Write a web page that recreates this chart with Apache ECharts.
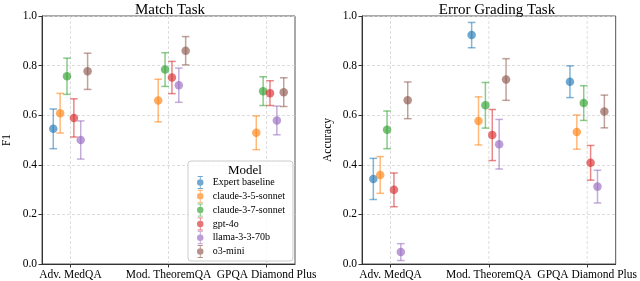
<!DOCTYPE html>
<html>
<head>
<meta charset="utf-8">
<script src="https://cdn.jsdelivr.net/npm/echarts@6/dist/echarts.min.js"></script>
<style>html,body{margin:0;padding:0;background:#fff}#c{width:640px;height:281px}</style>
</head>
<body>
<div id="c"></div>
<script>
const categories = ['Adv. MedQA', 'Mod. TheoremQA', 'GPQA Diamond Plus'];
const models = ['Expert baseline', 'claude-3-5-sonnet', 'claude-3-7-sonnet', 'gpt-4o', 'llama-3-3-70b', 'o3-mini'];
const colors = ['#1f77b4', '#ff7f0e', '#2ca02c', '#d62728', '#9467bd', '#8c564b'];

// Match Task (F1): rows = models, cols = categories
const matchMeans = [
  [0.545, null, null],
  [0.608, 0.659, 0.529],
  [0.757, 0.784, 0.697],
  [0.589, 0.752, 0.689],
  [0.500, 0.721, 0.579],
  [0.777, 0.860, 0.693]
];
const matchErrs = [
  [0.080, null, null],
  [0.080, 0.086, 0.068],
  [0.073, 0.068, 0.058],
  [0.077, 0.065, 0.050],
  [0.077, 0.069, 0.058],
  [0.073, 0.057, 0.058]
];
// Error Grading Task (Accuracy)
const gradeMeans = [
  [0.343, 0.923, 0.735],
  [0.359, 0.577, 0.532],
  [0.541, 0.640, 0.649],
  [0.299, 0.520, 0.408],
  [0.048, 0.483, 0.312],
  [0.660, 0.744, 0.615]
];
const gradeErrs = [
  [0.083, 0.051, 0.064],
  [0.074, 0.097, 0.069],
  [0.076, 0.092, 0.070],
  [0.068, 0.103, 0.070],
  [0.034, 0.100, 0.066],
  [0.074, 0.084, 0.066]
];

const FONT = 'Liberation Serif';
const dodge = i => (i - 2.5) * 0.07;
const GRID_LINE = {color: '#d4d4d4', type: [3, 2], width: 0.8};

function hexA(hex, a) {
  const n = parseInt(hex.slice(1), 16);
  return 'rgba(' + ((n >> 16) & 255) + ',' + ((n >> 8) & 255) + ',' + (n & 255) + ',' + a + ')';
}

const grids = [
  {left: 35, right: 345, top: 16, bottom: 16},
  {left: 362, right: 17, top: 16, bottom: 16}
];

function xAxisFor(gi) {
  return {
    type: 'value', gridIndex: gi, min: -0.29, max: 2.29,
    axisLine: {show: true, onZero: false, lineStyle: {color: '#333'}},
    axisTick: {show: true, customValues: [0, 1, 2], length: 3.5, lineStyle: {color: '#333'}},
    axisLabel: {customValues: [0, 1, 2], formatter: v => categories[Math.round(v)], color: '#000',
      fontFamily: FONT, fontSize: 11.5, margin: 5},
    splitLine: {show: false}
  };
}
function yAxisFor(gi, name) {
  return {
    type: 'value', gridIndex: gi, min: 0, max: 1, interval: 0.2,
    name: name, nameLocation: 'middle', nameGap: gi === 0 ? 29 : 28,
    nameTextStyle: {fontFamily: FONT, fontSize: 11.5, color: '#000'},
    axisLine: {show: true, onZero: false, lineStyle: {color: '#333'}},
    axisTick: {show: true, length: 3.5, lineStyle: {color: '#333'}},
    axisLabel: {formatter: v => v.toFixed(1), color: '#000', fontFamily: FONT, fontSize: 11.5, margin: 5},
    splitLine: {show: true, lineStyle: GRID_LINE}
  };
}

const series = [];
[[matchMeans, matchErrs, 0], [gradeMeans, gradeErrs, 1]].forEach(([means, errs, gi]) => {
  // vertical category gridlines
  series.push({
    type: 'custom', xAxisIndex: gi, yAxisIndex: gi, silent: true, z: 1,
    data: categories.map((c, k) => [k, 0, 1]),
    renderItem: (params, api) => {
      const a = api.coord([api.value(0), api.value(1)]);
      const b = api.coord([api.value(0), api.value(2)]);
      return {type: 'line', shape: {x1: a[0], y1: a[1], x2: b[0], y2: b[1]},
        style: {stroke: GRID_LINE.color, lineWidth: GRID_LINE.width, lineDash: GRID_LINE.type}};
    }
  });
  models.forEach((m, i) => {
    const ebData = [];
    const ptData = [];
    categories.forEach((c, k) => {
      const v = means[i][k];
      if (v === null) return;
      const e = errs[i][k];
      ebData.push([k + dodge(i), v - e, v + e]);
      ptData.push([k + dodge(i), v]);
    });
    series.push({
      type: 'custom', name: m + ' err', xAxisIndex: gi, yAxisIndex: gi, data: ebData, z: 2, silent: true,
      renderItem: (params, api) => {
        const x = api.value(0);
        const lo = api.coord([x, api.value(1)]);
        const hi = api.coord([x, api.value(2)]);
        const cw = 3.8;
        const style = {stroke: hexA(colors[i], 0.55), lineWidth: 1.5, fill: null};
        return {type: 'group', children: [
          {type: 'line', shape: {x1: lo[0], y1: lo[1], x2: hi[0], y2: hi[1]}, style: style},
          {type: 'line', shape: {x1: lo[0] - cw, y1: lo[1], x2: lo[0] + cw, y2: lo[1]}, style: style},
          {type: 'line', shape: {x1: hi[0] - cw, y1: hi[1], x2: hi[0] + cw, y2: hi[1]}, style: style}
        ]};
      }
    });
    series.push({
      type: 'scatter', name: m, xAxisIndex: gi, yAxisIndex: gi, data: ptData, z: 3,
      symbolSize: 8.5, itemStyle: {color: hexA(colors[i], 0.8)}
    });
  });
});

const legendIcon = 'path://M9.3,0H10.7V20H9.3Z M6,0H14V1.4H6Z M6,18.6H14V20H6Z M10,5A5,5 0 1 1 9.99,5Z';

const option = {
  animation: false,
  backgroundColor: '#fff',
  grid: grids.map(g => Object.assign({show: true, borderColor: '#555', borderWidth: 1, containLabel: false}, g)),
  xAxis: [xAxisFor(0), xAxisFor(1)],
  yAxis: [yAxisFor(0, 'F1'), yAxisFor(1, 'Accuracy')],
  title: [
    {text: 'Match Task', left: 165, top: -2, textAlign: 'center',
      textStyle: {fontFamily: FONT, fontSize: 15, fontWeight: 'normal', color: '#000'}},
    {text: 'Error Grading Task', left: 492, top: -2, textAlign: 'center',
      textStyle: {fontFamily: FONT, fontSize: 15, fontWeight: 'normal', color: '#000'}},
    {text: 'Model', left: 240, top: 159, textAlign: 'center', z: 20,
      textStyle: {fontFamily: FONT, fontSize: 13, fontWeight: 'normal', color: '#000'}}
  ],
  legend: {
    data: models.map(m => ({name: m, icon: legendIcon})),
    orient: 'vertical', left: 188, top: 161,
    padding: [15, 8, 3, 9],
    itemWidth: 9, itemHeight: 13, itemGap: 0.8,
    backgroundColor: 'rgba(255,255,255,0.8)', borderColor: '#cccccc', borderWidth: 1, borderRadius: 3,
    textStyle: {fontFamily: FONT, fontSize: 10, color: '#000', padding: [0, 0, 0, 3]},
    selectedMode: false
  },
  series: series
};

const chart = echarts.init(document.getElementById('c'), null, {renderer: 'canvas'});
chart.setOption(option);
</script>
</body>
</html>
